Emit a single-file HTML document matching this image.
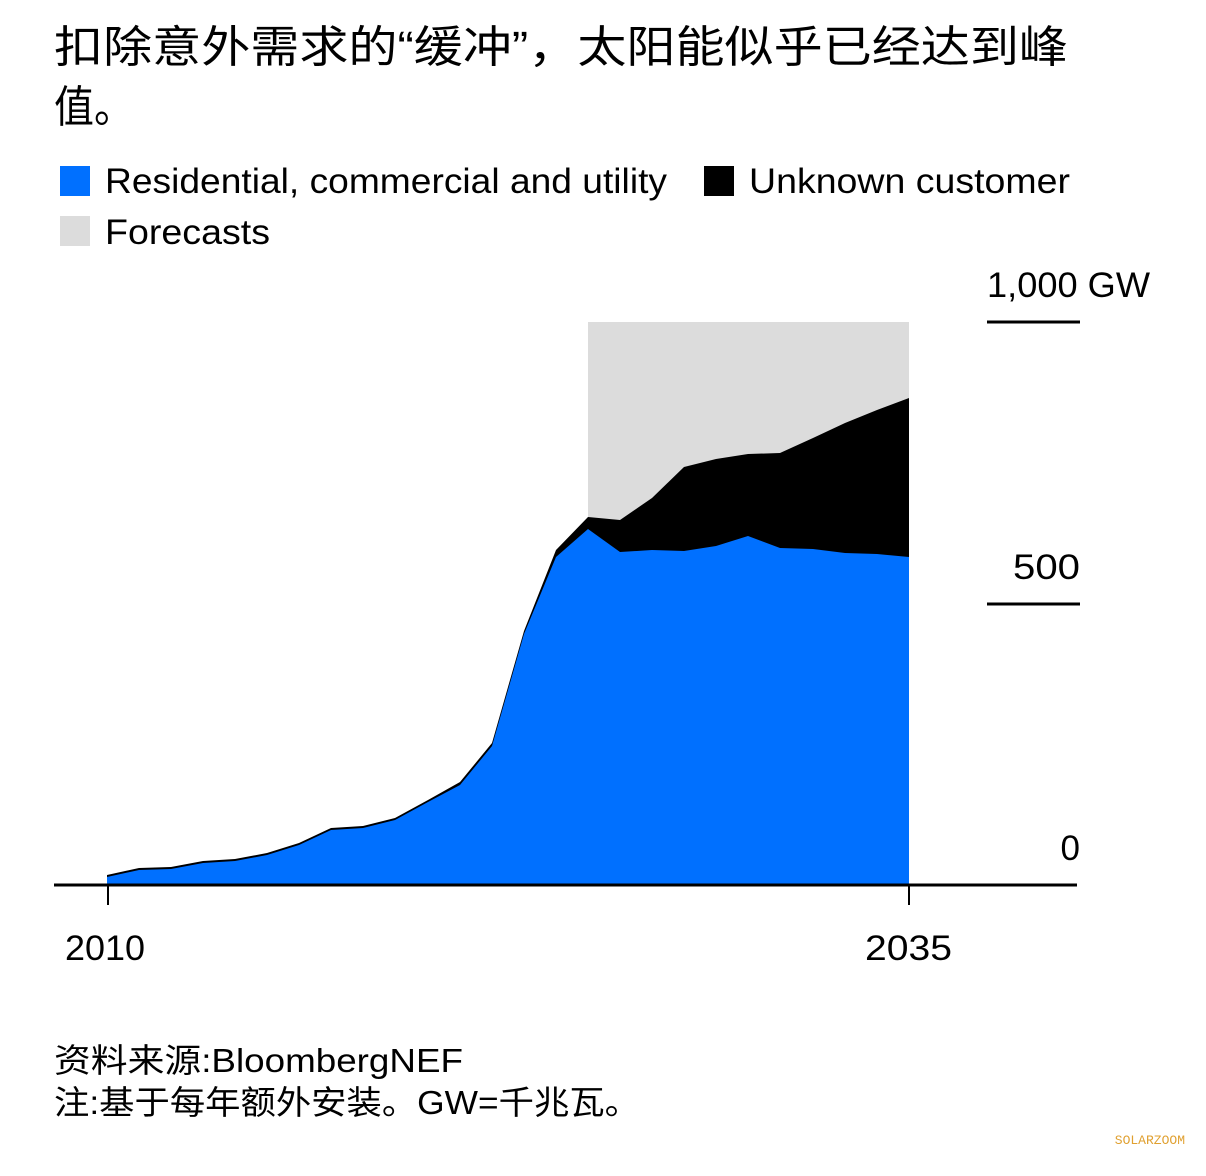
<!DOCTYPE html>
<html><head><meta charset="utf-8"><style>
body{margin:0;background:#fff;width:1206px;height:1176px;overflow:hidden;font-family:"Liberation Sans","Noto Sans CJK SC",sans-serif;color:#000}
</style></head><body>
<svg width="1206" height="1176" xmlns="http://www.w3.org/2000/svg" style="position:absolute;left:0;top:0;font-family:'Liberation Sans','Noto Sans CJK SC',sans-serif">
<text x="54" y="62" font-size="44" textLength="1014" lengthAdjust="spacingAndGlyphs">扣除意外需求的“缓冲”，太阳能似乎已经达到峰</text>
<text x="54" y="122" font-size="44" textLength="80" lengthAdjust="spacingAndGlyphs">值。</text>
<rect x="60" y="166" width="30" height="30" fill="#0070ff"/>
<text x="105" y="193" font-size="35" textLength="562" lengthAdjust="spacingAndGlyphs">Residential, commercial and utility</text>
<rect x="704" y="166" width="30" height="30" fill="#000"/>
<text x="749" y="193" font-size="35" textLength="321" lengthAdjust="spacingAndGlyphs">Unknown customer</text>
<rect x="60" y="216" width="30" height="30" fill="#dcdcdc"/>
<text x="105" y="244" font-size="35" textLength="165" lengthAdjust="spacingAndGlyphs">Forecasts</text>
<rect x="588" y="322" width="321" height="563" fill="#dcdcdc"/>
<polygon fill="#000" points="107,885 107,875 139,868 171,867 203,861 235,859 267,853 299,843 331,828 363,826 395,818 428,800 460,782 492,743 524,631 556,550 588,517 620,520 652,498 684,467 716,459 748,454 780,453 813,438 845,423 877,410 909,398 909,885"/>
<polygon fill="#0070ff" points="107,885 107,877 139,870 171,869 203,863 235,861 267,855 299,845 331,830 363,828 395,820 428,802 460,785 492,746 524,634 556,557 588,529 620,552 652,550 684,551 716,546 748,536 780,548 813,549 845,553 877,554 909,557 909,885"/>
<line x1="54" y1="885" x2="1077" y2="885" stroke="#000" stroke-width="3"/>
<line x1="108" y1="885" x2="108" y2="905" stroke="#000" stroke-width="2"/>
<line x1="909" y1="885" x2="909" y2="905" stroke="#000" stroke-width="2"/>
<line x1="987" y1="322" x2="1080" y2="322" stroke="#000" stroke-width="3"/>
<line x1="987" y1="604" x2="1080" y2="604" stroke="#000" stroke-width="3"/>
<text x="987" y="297" font-size="35" textLength="163" lengthAdjust="spacingAndGlyphs">1,000 GW</text>
<text x="1013" y="579" font-size="35" textLength="67" lengthAdjust="spacingAndGlyphs">500</text>
<text x="1080" y="860" font-size="35" text-anchor="end">0</text>
<text x="65" y="960" font-size="35" textLength="80" lengthAdjust="spacingAndGlyphs">2010</text>
<text x="865" y="960" font-size="35" textLength="87" lengthAdjust="spacingAndGlyphs">2035</text>
<text x="54" y="1072" font-size="33" textLength="409" lengthAdjust="spacingAndGlyphs">资料来源:BloombergNEF</text>
<text x="54" y="1114" font-size="33" textLength="586" lengthAdjust="spacingAndGlyphs">注:基于每年额外安装。GW=千兆瓦。</text>
<text x="1185" y="1144" font-size="13" fill="#e0a030" text-anchor="end" font-family="Liberation Mono,monospace">SOLARZOOM</text>
</svg>
</body></html>
